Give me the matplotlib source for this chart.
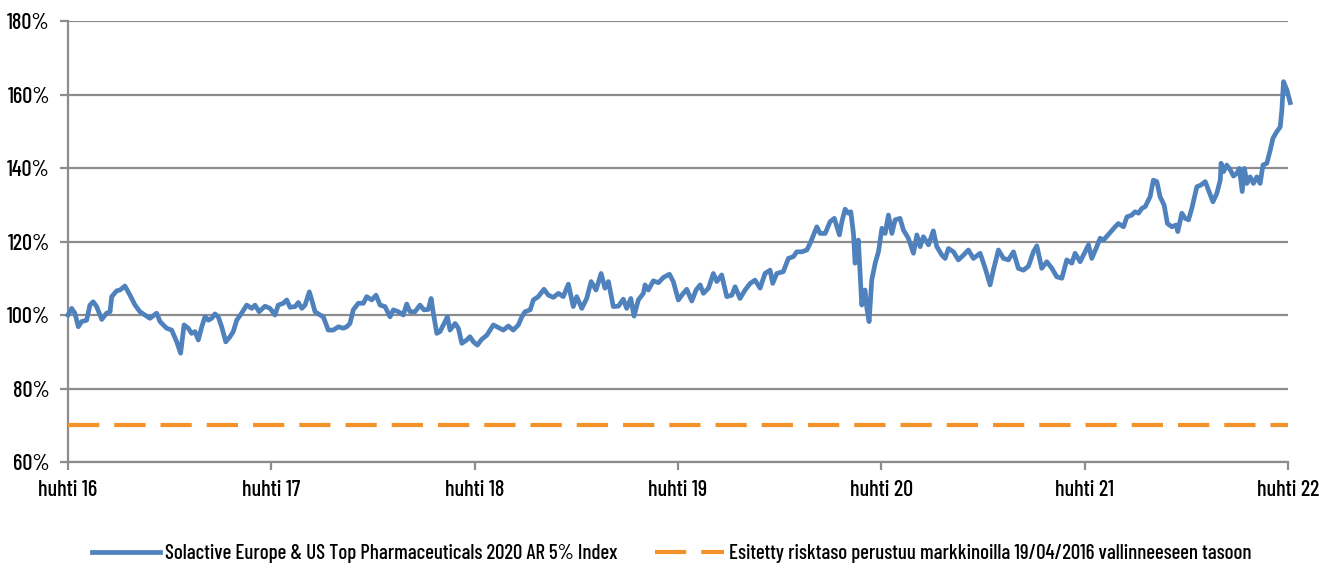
import matplotlib.pyplot as plt
from matplotlib.ticker import FuncFormatter

#Index level (decimal years, % of start level)

years = [2016.300, 2016.318, 2016.334, 2016.351, 2016.367, 2016.392, 2016.408, 2016.424, 2016.441, 2016.466,
         2016.490, 2016.507, 2016.515, 2016.540, 2016.556, 2016.580, 2016.605, 2016.630, 2016.654, 2016.679,
         2016.703, 2016.736, 2016.753, 2016.785, 2016.810, 2016.835, 2016.854, 2016.871, 2016.892, 2016.908,
         2016.925, 2016.941, 2016.958, 2016.974, 2016.990, 2017.007, 2017.023, 2017.039, 2017.056, 2017.076,
         2017.097, 2017.113, 2017.130, 2017.154, 2017.179, 2017.204, 2017.220, 2017.240, 2017.269, 2017.294,
         2017.318, 2017.334, 2017.359, 2017.376, 2017.392, 2017.417, 2017.433, 2017.450, 2017.466, 2017.487,
         2017.499, 2017.515, 2017.540, 2017.556, 2017.580, 2017.605, 2017.630, 2017.654, 2017.671, 2017.687,
         2017.703, 2017.728, 2017.753, 2017.769, 2017.794, 2017.815, 2017.835, 2017.859, 2017.884, 2017.900,
         2017.925, 2017.949, 2017.966, 2017.982, 2018.007, 2018.031, 2018.051, 2018.072, 2018.086, 2018.097,
         2018.114, 2018.130, 2018.146, 2018.166, 2018.179, 2018.204, 2018.220, 2018.237, 2018.261, 2018.277,
         2018.294, 2018.313, 2018.335, 2018.360, 2018.392, 2018.417, 2018.441, 2018.466, 2018.490, 2018.515,
         2018.532, 2018.548, 2018.573, 2018.589, 2018.613, 2018.641, 2018.663, 2018.687, 2018.712, 2018.736,
         2018.761, 2018.785, 2018.802, 2018.827, 2018.851, 2018.873, 2018.897, 2018.922, 2018.941, 2018.958,
         2018.982, 2019.007, 2019.031, 2019.048, 2019.068, 2019.084, 2019.105, 2019.130, 2019.138, 2019.154,
         2019.179, 2019.204, 2019.228, 2019.258, 2019.277, 2019.302, 2019.319, 2019.343, 2019.368, 2019.389,
         2019.409, 2019.425, 2019.450, 2019.474, 2019.491, 2019.515, 2019.540, 2019.565, 2019.581, 2019.605,
         2019.630, 2019.655, 2019.679, 2019.704, 2019.728, 2019.753, 2019.766, 2019.786, 2019.818, 2019.843,
         2019.868, 2019.884, 2019.909, 2019.934, 2019.950, 2019.983, 2019.999, 2020.024, 2020.048, 2020.069,
         2020.094, 2020.106, 2020.122, 2020.138, 2020.150, 2020.163, 2020.171, 2020.187, 2020.196, 2020.204,
         2020.220, 2020.229, 2020.240, 2020.253, 2020.270, 2020.286, 2020.303, 2020.319, 2020.335, 2020.352,
         2020.368, 2020.392, 2020.409, 2020.433, 2020.458, 2020.475, 2020.491, 2020.507, 2020.532, 2020.556,
         2020.573, 2020.598, 2020.614, 2020.630, 2020.655, 2020.679, 2020.704, 2020.728, 2020.753, 2020.786,
         2020.811, 2020.835, 2020.851, 2020.876, 2020.901, 2020.925, 2020.950, 2020.974, 2020.999, 2021.024,
         2021.048, 2021.065, 2021.089, 2021.114, 2021.139, 2021.163, 2021.188, 2021.212, 2021.237, 2021.253,
         2021.278, 2021.302, 2021.319, 2021.335, 2021.360, 2021.376, 2021.393, 2021.450, 2021.466, 2021.491,
         2021.508, 2021.532, 2021.548, 2021.565, 2021.581, 2021.598, 2021.622, 2021.638, 2021.655, 2021.671,
         2021.691, 2021.707, 2021.729, 2021.750, 2021.758, 2021.778, 2021.794, 2021.811, 2021.827, 2021.852,
         2021.873, 2021.893, 2021.909, 2021.931, 2021.950, 2021.967, 2021.971, 2021.983, 2021.999, 2022.016,
         2022.032, 2022.049, 2022.061, 2022.075, 2022.086, 2022.098, 2022.114, 2022.130, 2022.147, 2022.163,
         2022.177, 2022.196, 2022.213, 2022.226, 2022.245, 2022.262, 2022.270, 2022.278, 2022.295, 2022.311]

index_level = [100.0, 101.8, 100.5, 96.8, 98.2, 98.6, 102.7, 103.6, 102.3, 98.8,
               100.5, 100.9, 105.0, 106.6, 106.8, 107.9, 105.4, 102.7, 100.9, 100.0,
               99.1, 100.5, 98.2, 96.4, 95.9, 92.7, 89.6, 97.3, 96.4, 95.0,
               95.5, 93.2, 96.8, 99.5, 98.6, 99.1, 100.3, 99.5, 96.8, 92.7,
               94.1, 95.5, 98.6, 100.5, 102.7, 101.8, 102.7, 100.9, 102.4, 101.8,
               100.0, 102.7, 103.2, 104.1, 102.1, 102.3, 103.4, 101.8, 102.7, 106.3,
               104.1, 100.9, 100.0, 99.5, 95.9, 95.9, 96.8, 96.4, 96.8, 97.7,
               101.4, 103.2, 103.2, 105.0, 104.1, 105.4, 102.7, 102.3, 99.5, 101.4,
               100.9, 100.0, 103.0, 100.9, 100.9, 102.7, 101.4, 101.5, 104.5, 100.5,
               95.0, 95.5, 97.3, 99.5, 95.9, 97.7, 96.4, 92.3, 93.2, 94.1,
               92.7, 91.8, 93.4, 94.5, 97.3, 96.6, 95.9, 97.0, 95.9, 97.3,
               99.5, 100.9, 101.4, 104.1, 105.0, 107.0, 105.4, 104.8, 105.9, 105.0,
               108.4, 102.3, 105.0, 101.8, 104.5, 109.1, 106.8, 111.3, 107.3, 109.1,
               102.3, 102.4, 104.3, 101.8, 104.5, 99.7, 104.1, 105.9, 108.2, 106.8,
               109.3, 108.8, 110.2, 111.1, 109.1, 104.1, 105.4, 107.0, 103.8, 106.8,
               108.2, 105.9, 107.3, 111.3, 109.1, 110.9, 105.0, 105.4, 107.7, 104.5,
               106.8, 108.6, 109.5, 107.3, 111.3, 112.2, 108.6, 111.3, 111.8, 115.4,
               115.9, 117.2, 117.2, 117.7, 119.5, 124.0, 122.2, 122.2, 125.4, 126.3,
               121.8, 125.4, 128.8, 127.7, 128.1, 122.2, 114.1, 120.4, 111.3, 102.7,
               106.8, 101.8, 98.2, 109.5, 114.1, 117.2, 123.6, 122.2, 127.2, 122.2,
               125.9, 126.3, 123.1, 120.9, 116.8, 121.8, 118.6, 121.3, 119.1, 122.9,
               118.6, 116.3, 115.4, 118.1, 117.2, 115.0, 116.3, 117.7, 115.4, 116.8,
               112.7, 108.2, 112.2, 117.7, 115.4, 115.0, 117.2, 112.7, 112.2, 113.3,
               117.2, 118.8, 112.7, 114.5, 112.7, 110.4, 110.0, 115.0, 114.1, 116.8,
               114.5, 117.2, 119.1, 115.4, 118.6, 120.9, 120.4, 124.0, 124.9, 124.0,
               126.7, 127.2, 128.1, 127.7, 129.0, 129.5, 132.2, 136.7, 136.3, 132.2,
               129.9, 124.9, 124.0, 124.5, 122.7, 127.7, 126.3, 125.9, 129.0, 134.9,
               135.4, 136.3, 134.0, 130.8, 133.1, 136.7, 141.3, 139.0, 140.8, 139.5,
               137.8, 138.6, 139.9, 133.6, 139.9, 135.8, 137.6, 135.8, 137.6, 135.8,
               140.8, 141.3, 144.9, 148.1, 149.9, 151.2, 155.8, 163.5, 161.2, 157.8]

risk_level = 70
start_year = 2016.30
tick_labels = ['huhti 16', 'huhti 17', 'huhti 18', 'huhti 19', 'huhti 20', 'huhti 21', 'huhti 22']

series_name = 'Solactive Europe & US Top Pharmaceuticals 2020 AR 5% Index'
risk_name = 'Esitetty risktaso perustuu markkinoilla 19/04/2016 vallinneeseen tasoon'

#Font and figure setup (narrow DIN-like face)

plt.rcParams['font.family'] = ['Barlow Condensed', 'Roboto Condensed', 'DejaVu Sans']
plt.rcParams['font.weight'] = 'medium'

fig = plt.figure(figsize=(13.3, 5.68), dpi=100)
ax = fig.add_axes([0.0511, 0.1866, 0.9173, 0.7764])

tick_pos = [start_year + i for i in range(len(tick_labels))]

#Draws the index and the risk level line

ax.plot(years, index_level, color='#4F81BD', lw=3.4, solid_joinstyle='round',
        label=series_name, zorder=3, clip_on=False)
ax.plot([tick_pos[0], tick_pos[-1]], [risk_level, risk_level], color='#F39229', lw=3,
        dashes=(7.5, 3.6), label=risk_name, zorder=3)

ax.set_xlim(tick_pos[0], tick_pos[-1])
ax.set_ylim(60, 180)
ax.set_yticks(range(60, 181, 20))
ax.yaxis.set_major_formatter(FuncFormatter(lambda v, p: '%d%%' % v))
ax.set_xticks(tick_pos)
ax.set_xticklabels(tick_labels)

#Gridlines and spines like the original

ax.grid(axis='y', color='#8C8C8C', lw=1.6)
ax.set_axisbelow(True)
for side in ['top', 'right']:
    ax.spines[side].set_visible(False)
for side in ['left', 'bottom']:
    ax.spines[side].set_color('#8C8C8C')
    ax.spines[side].set_linewidth(1.6)

ax.tick_params(axis='y', length=6, width=1.6, color='#8C8C8C', labelsize=16, pad=7)
ax.tick_params(axis='x', length=6, width=1.6, color='#8C8C8C', labelsize=16, pad=7)

#Legend under the plot

fig.legend(loc='lower center', bbox_to_anchor=(0.505, -0.024), ncol=2, frameon=False,
           fontsize=15, handlelength=3.3, columnspacing=1.8, handletextpad=0.25)

plt.savefig('out.png', dpi=100)
